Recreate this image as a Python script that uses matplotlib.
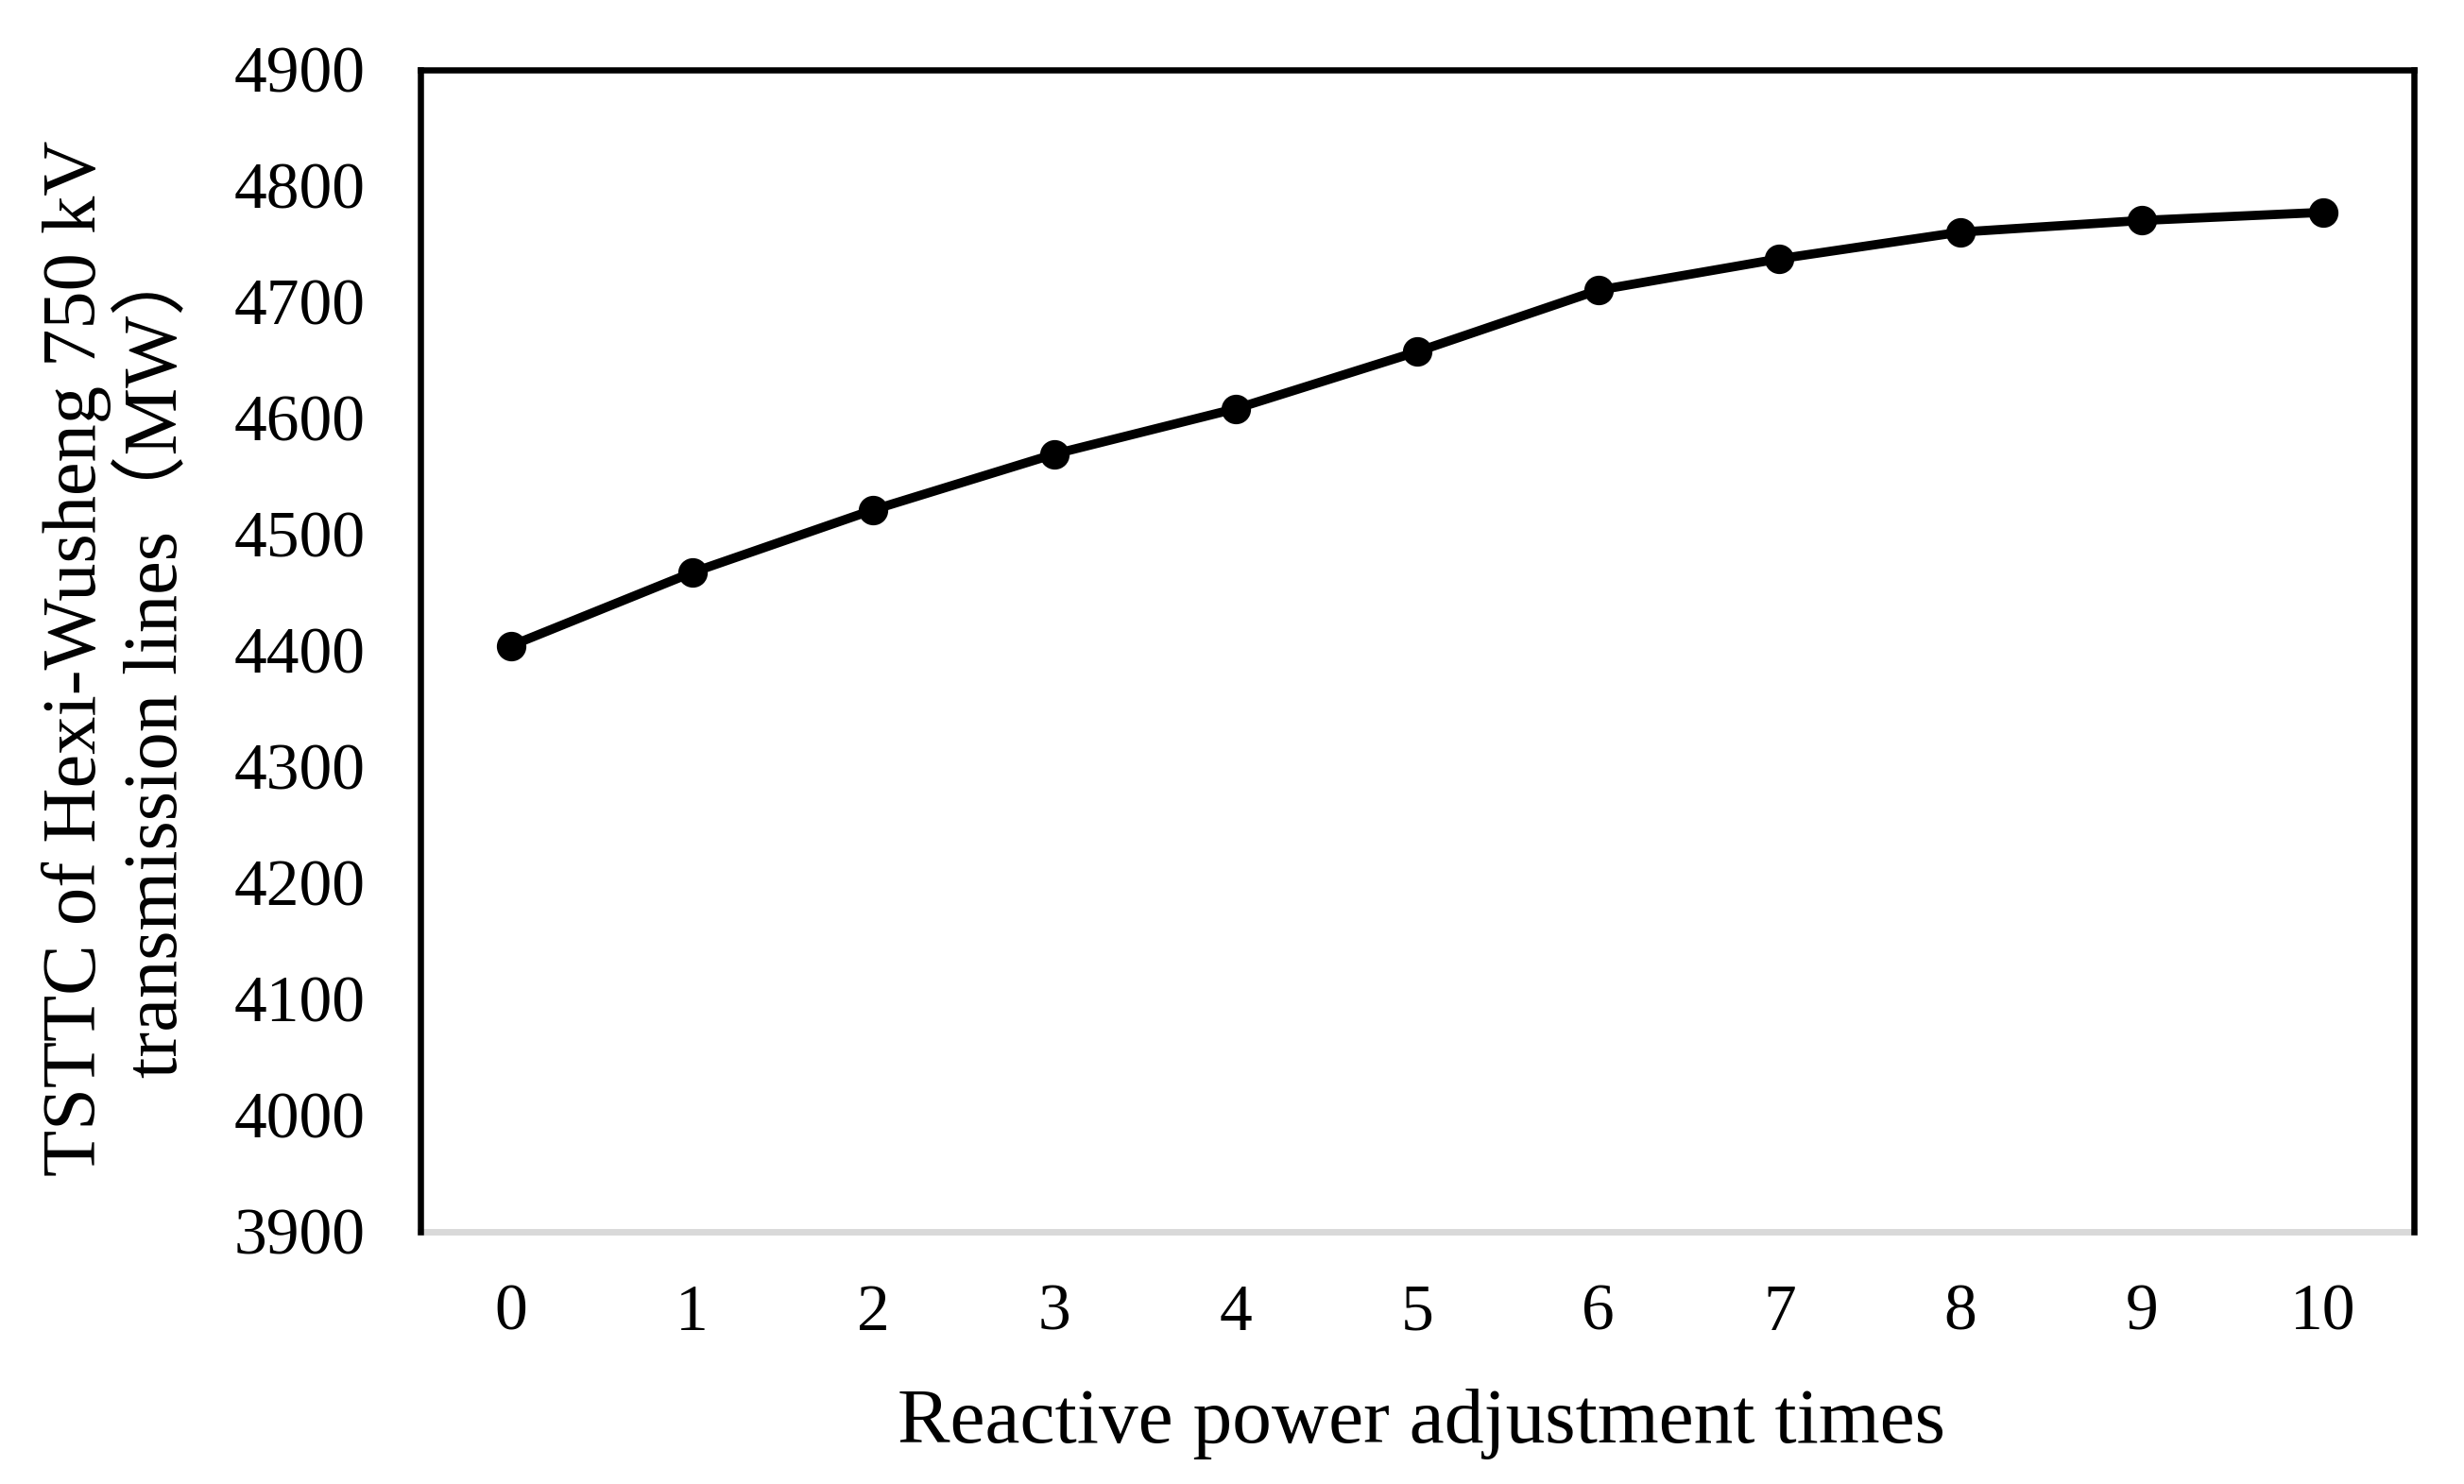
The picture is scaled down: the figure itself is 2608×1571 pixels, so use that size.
import matplotlib
matplotlib.use("Agg")
import matplotlib.pyplot as plt

# Data
categories = [0, 1, 2, 3, 4, 5, 6, 7, 8, 9, 10]
tsttc_values = [4404, 4467, 4521, 4569, 4608, 4657, 4710, 4737, 4760, 4770, 4777]
y_ticks = [3900, 4000, 4100, 4200, 4300, 4400, 4500, 4600, 4700, 4800, 4900]
x_tick_labels = [str(c) for c in categories]

xlabel_text = "Reactive power adjustment times"
ylabel_text = "TSTTC of Hexi-Wusheng 750 kV\ntransmission lines\uff08MW\uff09"

fonts = ["Liberation Serif", "Noto Sans CJK SC", "DejaVu Serif"]
plt.rcParams["font.family"] = fonts

fig = plt.figure(figsize=(26.08, 15.71), dpi=100)
ax = fig.add_axes([445 / 2608, 1 - 1303.5 / 1571, (2554.5 - 445) / 2608, (1303.5 - 73.5) / 1571])

ax.plot(categories, tsttc_values, color="black", linewidth=7.0,
        marker="o", markersize=21.5, markerfacecolor="black", markeredgecolor="black",
        solid_joinstyle="round")

ax.set_xlim(-0.5, 10.5)
ax.set_ylim(3900, 4900)
ax.set_yticks(y_ticks)
ax.set_yticklabels([str(v) for v in y_ticks])
ax.set_xticks(categories)
ax.set_xticklabels(x_tick_labels)

ax.tick_params(axis="both", length=0, labelsize=50)
ax.tick_params(axis="x", pad=40)
ax.tick_params(axis="y", pad=42)

for side in ["left", "top", "right"]:
    ax.spines[side].set_linewidth(4.7)
    ax.spines[side].set_color("black")
ax.spines["bottom"].set_linewidth(5.0)
ax.spines["bottom"].set_color("#D9D9D9")
ax.spines["bottom"].set_zorder(1)

fig.text((445 + 2554.5) / 2 / 2608 + 0.002, 1 - 1507 / 1571, xlabel_text,
         ha="center", va="center", fontsize=60)
fig.text(124 / 2608, 1 - 697 / 1571, ylabel_text, rotation=90,
         ha="center", va="center", multialignment="center", fontsize=58,
         linespacing=1.15)

fig.savefig("out.png", dpi=100, facecolor="white")
